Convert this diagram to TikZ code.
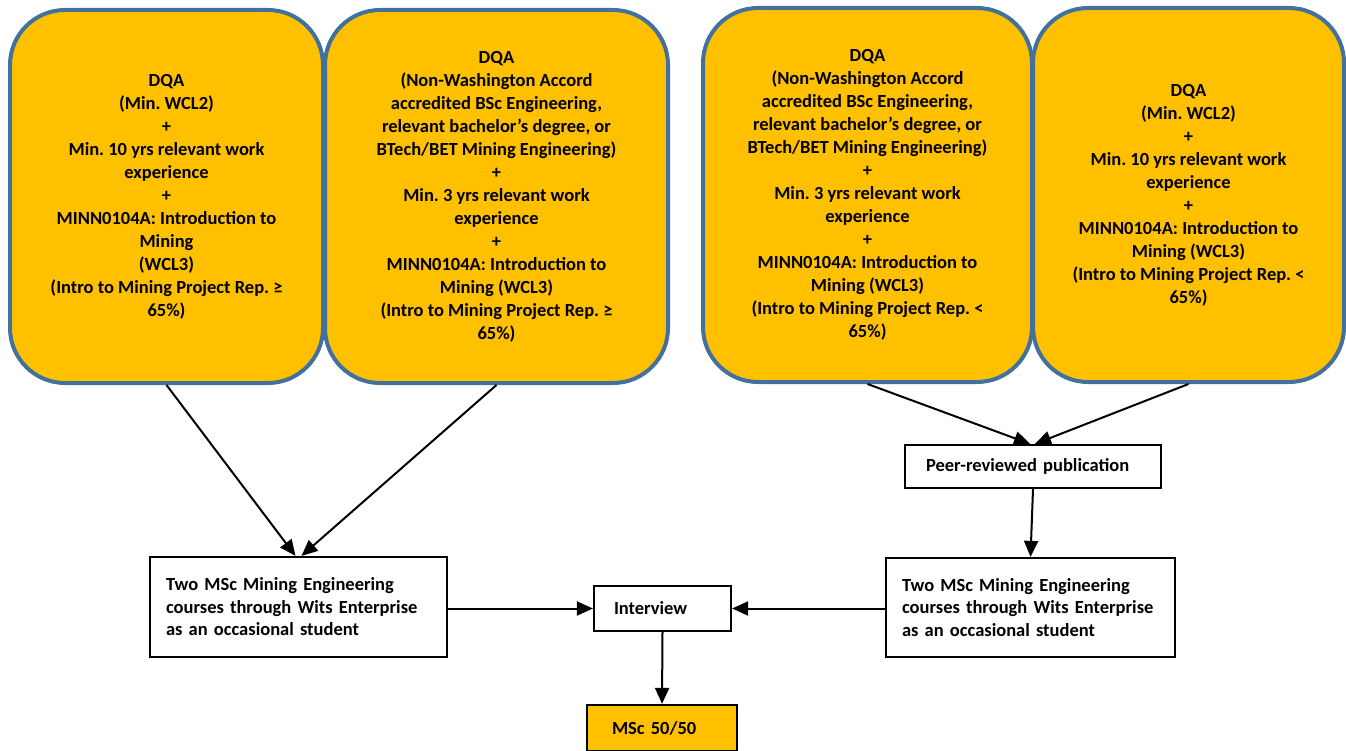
\documentclass[tikz,border=0pt]{standalone}
\usepackage{fontspec}
\setmainfont{Carlito}
\usetikzlibrary{arrows.meta,positioning,calc}
\definecolor{boxorange}{RGB}{255,192,0}
\definecolor{boxblue}{RGB}{65,113,156}
\frenchspacing
\begin{document}
\begin{tikzpicture}[x=1pt,y=-1pt,
  font=\fontsize{18.5}{23}\selectfont\bfseries,
  roundbox/.style={draw=boxblue,fill=boxorange,line width=4pt,rounded corners=55pt,align=center,inner sep=0pt},
  rectbox/.style={draw=black,line width=2.2pt,inner sep=0pt,align=left},
  arr/.style={line width=2pt,-{Triangle[length=16pt,width=14pt]}}]
\useasboundingbox (0,0) rectangle (1346,751);
% rounded boxes
\node[roundbox,minimum width=313pt,minimum height=373pt] (b1) at (166.5,196.5)
 {DQA\\(Min. WCL2)\\+\\Min. 10 yrs relevant work\\experience\\+\\MINN0104A: Introduction to\\Mining\\(WCL3)\\(Intro to Mining Project Rep. ≥\\65\%)};
\node[roundbox,minimum width=343pt,minimum height=373pt] (b2) at (496.5,196.5)
 {DQA\\(Non-Washington Accord\\accredited BSc Engineering,\\relevant bachelor’s degree, or\\BTech/BET Mining Engineering)\\+\\Min. 3 yrs relevant work\\experience\\+\\MINN0104A: Introduction to\\Mining (WCL3)\\(Intro to Mining Project Rep. ≥\\65\%)};
\node[roundbox,minimum width=329pt,minimum height=374pt] (b3) at (867.5,195)
 {DQA\\(Non-Washington Accord\\accredited BSc Engineering,\\relevant bachelor’s degree, or\\BTech/BET Mining Engineering)\\+\\Min. 3 yrs relevant work\\experience\\+\\MINN0104A: Introduction to\\Mining (WCL3)\\(Intro to Mining Project Rep. <\\65\%)};
\node[roundbox,minimum width=311pt,minimum height=374pt] (b4) at (1188.5,195)
 {DQA\\(Min. WCL2)\\+\\Min. 10 yrs relevant work\\experience\\+\\MINN0104A: Introduction to\\Mining (WCL3)\\(Intro to Mining Project Rep. <\\65\%)};
% rectangular boxes
\node[rectbox,text width=265pt,inner xsep=16pt,minimum height=100pt,font=\fontsize{18.5}{22.5}\selectfont\bfseries] (cl) at (298.5,607)
 {Two MSc Mining Engineering\\courses through Wits Enterprise\\as an occasional student};
\node[rectbox,text width=257pt,inner xsep=16pt,minimum height=99pt,font=\fontsize{18.5}{22.5}\selectfont\bfseries] (cr) at (1030.5,607.5)
 {Two MSc Mining Engineering\\courses through Wits Enterprise\\as an occasional student};
\node[rectbox,text width=97pt,inner xsep=20pt,minimum height=45pt] (iv) at (662.5,608.5) {Interview};
\node[rectbox,fill=boxorange,text width=100pt,inner xsep=25pt,minimum height=46pt] (msc) at (662,728) {MSc 50/50};
\node[rectbox,text width=214pt,inner xsep=21pt,minimum height=43pt] (pr) at (1033,466.5) {Peer-reviewed publication};
% connectors
\draw[arr] (b1.south) -- ([xshift=-3pt]cl.north);
\draw[arr] (b2.south) -- ([xshift=3pt]cl.north);
\draw[arr] (b3.south) -- ([xshift=-3pt]pr.north);
\draw[arr] (b4.south) -- ([xshift=2pt]pr.north);
\draw[arr] (pr.south) -- (cr.north);
\draw[arr] (cl.east |- iv.west) -- (iv.west);
\draw[arr] (cr.west |- iv.east) -- (iv.east);
\draw[arr] (iv.south) -- (msc.north);
\end{tikzpicture}
\end{document}
